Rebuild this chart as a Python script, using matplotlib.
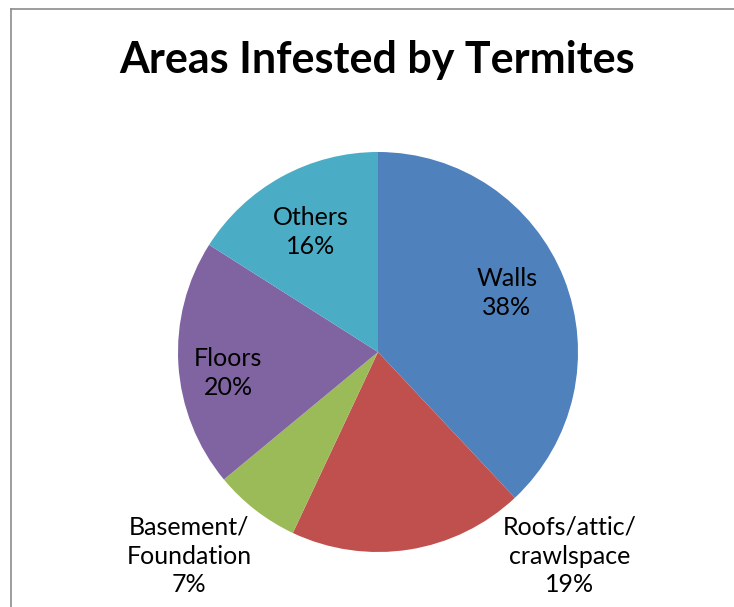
import matplotlib
matplotlib.use("Agg")
import matplotlib.pyplot as plt
from matplotlib.lines import Line2D

title = "Areas Infested by Termites"
categories = ["Walls", "Roofs/attic/\ncrawlspace", "Basement/\nFoundation", "Floors", "Others"]
values = [38, 19, 7, 20, 16]
colors = ["#4F81BD", "#C0504D", "#9BBB59", "#8064A2", "#4BACC6"]
label_pos = [(0.645, 0.295), (0.96, -1.02), (-0.945, -1.02), (-0.75, -0.105), (-0.335, 0.60)]

W, H = 734, 607
cx, cy, R = 378, 352, 200
fig = plt.figure(figsize=(W / 100, H / 100), dpi=100)
fig.patch.set_facecolor("white")

ax = fig.add_axes([0, 0, 1, 1])
ax.pie(values, colors=colors, startangle=90, counterclock=False, radius=1,
       center=(0, 0), frame=True, wedgeprops=dict(linewidth=0))
ax.set_xlim(-cx / R, (W - cx) / R)
ax.set_ylim(-(H - cy) / R, cy / R)
ax.axis("off")

total = sum(values)
for cat, v, (x, y) in zip(categories, values, label_pos):
    ax.text(x, y, f"{cat}\n{round(100 * v / total)}%", ha="center", va="center",
            fontsize=18, family="Lato", color="black", linespacing=1.3, multialignment="center")

fig.text(377 / W, 1 - 73 / H, title, ha="center", va="baseline", fontsize=31,
         fontweight="bold", family="Lato", color="black")

border_y = 1 - 9 / H
border_x = 10.5 / W
fig.lines.append(Line2D([border_x, 1.0], [border_y, border_y], transform=fig.transFigure,
                        color="#8c8c8c", linewidth=1.2))
fig.lines.append(Line2D([border_x, border_x], [0.0, border_y], transform=fig.transFigure,
                        color="#8c8c8c", linewidth=1.2))

fig.savefig("out.png", dpi=100)
